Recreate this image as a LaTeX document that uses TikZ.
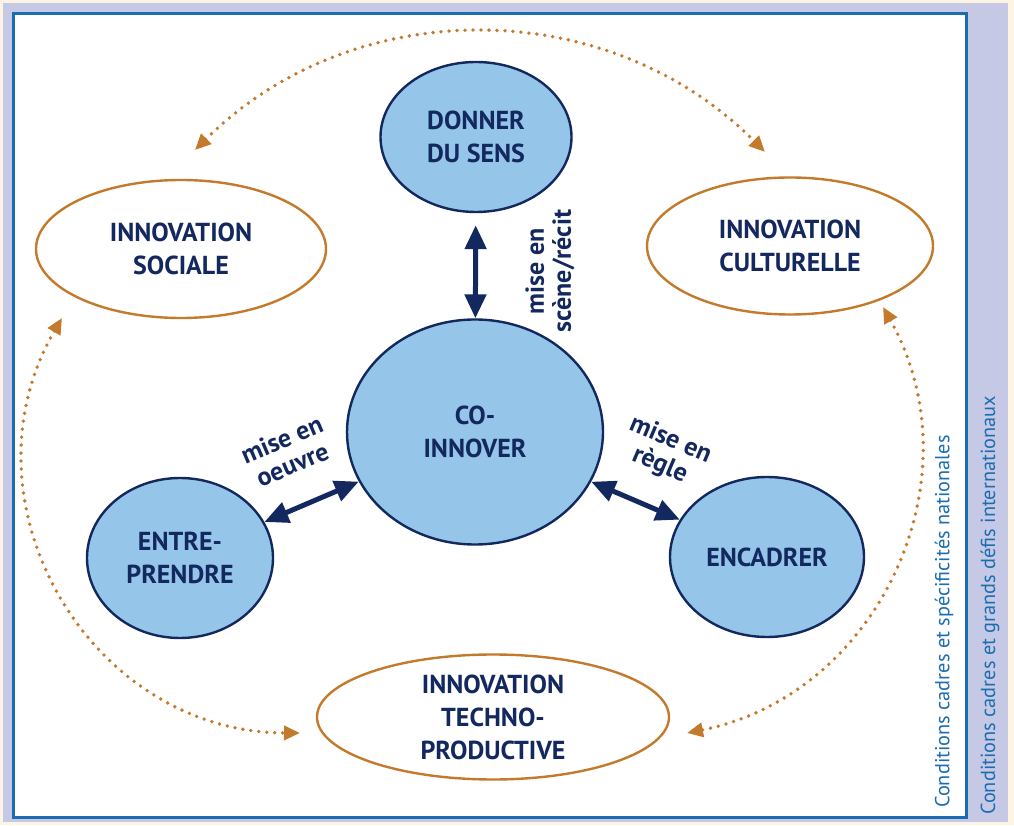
\documentclass[tikz,border=0pt]{standalone}
\usepackage{fontspec}
\setmainfont{PT Sans}
\usepackage{xcolor}
\usepackage{tikz}
\usetikzlibrary{shapes.geometric}
\usetikzlibrary{arrows.meta}
\usetikzlibrary{positioning}
\definecolor{navy}{HTML}{13285F}
\definecolor{skyfill}{HTML}{95C6EA}
\definecolor{ochre}{HTML}{C47A2C}
\definecolor{cream}{HTML}{FDF4E3}
\definecolor{lavender}{HTML}{C5C9E5}
\definecolor{frameblue}{HTML}{1B6DB0}

\begin{document}
\begin{tikzpicture}[x=1pt,y=1pt,
	core/.style={ellipse,draw=navy,line width=2.4pt,fill=skyfill,text=navy,inner sep=0pt,align=center,font=\fontsize{26}{33}\selectfont\bfseries},
	field/.style={ellipse,draw=ochre,line width=2.4pt,fill=white,text=navy,inner sep=0pt,align=center,font=\fontsize{26}{33}\selectfont\bfseries},
	duo/.style={{Triangle[length=24pt,width=21pt]}-{Triangle[length=24pt,width=21pt]},line width=5pt,navy},
	dots/.style={{Triangle[length=16pt,width=14pt]}-{Triangle[length=16pt,width=14pt]},ochre,line width=3.8pt,line cap=round,dash pattern=on 0pt off 8pt},
	link/.style={text=navy,align=center,font=\fontsize{26}{27}\selectfont\bfseries},
	margin/.style={rotate=90,anchor=west,text=frameblue,inner sep=0pt,font=\fontsize{20.3}{22}\selectfont}]
	\useasboundingbox (0,0) rectangle (1014,825);
	% frames
	\fill[cream] (0,0) rectangle (1014,825);
	\fill[lavender] (3,3) rectangle (1008,822);
	\draw[frameblue,line width=3pt,fill=white] (13,8) rectangle (966,811);
	\node[margin] (natl) at (944,17) {Conditions cadres et spécificités nationales};
	\node[margin] (intl) at (990,10) {Conditions cadres et grands défis internationaux};
	% the four verbs
	\node[core,minimum width=191pt,minimum height=150pt] (sens) at (476,688) {DONNER\\DU SENS};
	\node[core,minimum width=256pt,minimum height=225pt] (coin) at (475,393) {CO-\\INNOVER};
	\node[core,minimum width=186pt,minimum height=160pt] (entre) at (180,267) {ENTRE-\\PRENDRE};
	\node[core,minimum width=194pt,minimum height=160pt] (enca) at (767,268) {ENCADRER};
	% the three innovations
	\node[field,minimum width=290pt,minimum height=138pt] (soc) at (181,576) {INNOVATION\\SOCIALE};
	\node[field,minimum width=286pt,minimum height=137pt] (cult) at (790,579) {INNOVATION\\CULTURELLE};
	\node[field,minimum width=352pt,minimum height=125pt] (techno) at (493,108) {INNOVATION\\TECHNO-\\PRODUCTIVE};
	% links
	\draw[duo,shorten <=12pt] (sens) -- (coin);
	\draw[duo] (entre) -- (coin);
	\draw[duo] (coin) -- (enca);
	\node[link,rotate=90] (recit) at (550,554) {mise en\\scène/récit};
	\node[link,rotate=23] (oeuvre) at (287,373) {mise en\\oeuvre};
	\node[link,rotate=-23] (regle) at (665,372) {mise en\\règle};
	% dotted arcs
	\coordinate (ta) at (195,675);
	\coordinate (tb) at (765,673);
	\coordinate (la) at (62,507);
	\coordinate (lb) at (300,92);
	\coordinate (ra) at (883,518);
	\coordinate (rb) at (687,92);
	\draw[dots] (ta) to[bend left=45] (tb);
	\draw[dots] (la) to[bend right=60,looseness=1.13] (lb);
	\draw[dots] (ra) to[bend left=54,looseness=1.07] (rb);
\end{tikzpicture}
\end{document}
